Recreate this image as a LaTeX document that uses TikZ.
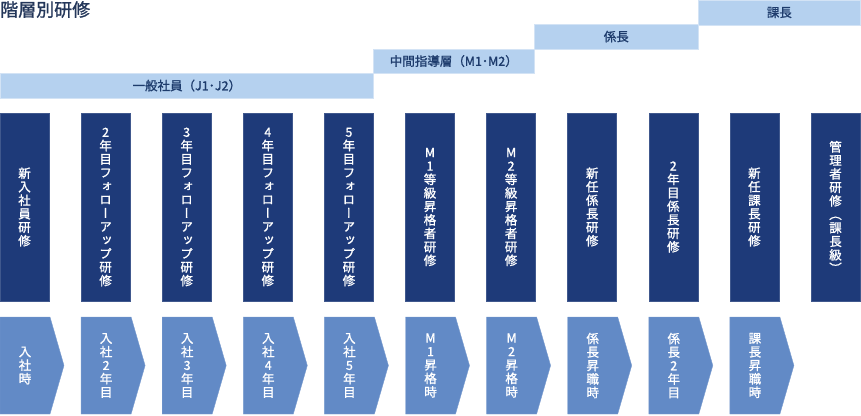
\documentclass[tikz,border=0pt]{standalone}
\usepackage{fontspec}
\setmainfont{Noto Sans CJK JP}[FakeBold=1.2]
\newfontfamily\tatefont[RawFeature=+vert,FakeBold=1.2]{Noto Sans CJK JP}
\definecolor{kon}{HTML}{1E3A79}
\definecolor{aoi}{HTML}{628AC6}
\definecolor{usuao}{HTML}{B5D1EF}
\definecolor{bandmoji}{HTML}{1D3B6C}
\definecolor{midashi}{HTML}{24375A}
% tategaki: one character per line
\makeatletter
\def\tate#1{\tate@i#1\@nil}
\def\tate@i#1{\ifx\@nil#1\else#1\par\expandafter\tate@i\fi}
\makeatother
\tikzset{
  band/.style={fill=usuao,draw=usuao!60!white,line width=0.6pt,anchor=north west,
    minimum height=24.5pt,inner sep=0pt,text=bandmoji,font=\fontsize{12.5}{13}\selectfont},
  kenshu/.style={fill=kon,draw=kon!85!white,line width=0.5pt,minimum width=49pt,
    minimum height=188pt,inner sep=0pt,text=white,text width=20pt,align=center,
    font=\tatefont\fontsize{12.5}{13.5}\selectfont},
  yajirushi/.style={fill=aoi,draw=aoi!85!white,line width=0.4pt},
  jiki/.style={inner sep=0pt,text=white,text width=20pt,align=center,
    font=\tatefont\fontsize{12.5}{13.5}\selectfont}
}
\begin{document}
\begin{tikzpicture}[x=1pt,y=-1pt]
    \useasboundingbox (0,0) rectangle (861,415);
    \node[anchor=north west,inner sep=0pt,text=midashi,font=\fontsize{18}{18}\selectfont] (midashi) at (0,1) {階層別研修};
    % kaisou no obi
    \foreach \x/\w/\yy/\name/\txt in {
        0/373/73/ippan/{一般社員（J1･J2）},
        373/161/48.5/chukan/{中間指導層（M1･M2）},
        534/164/24/kakari/{係長},
        698/162/0/kacho/{課長}
    } {
        \node[band,minimum width=\w pt] (\name) at (\x,\yy) {\txt};
    }
    % kenshu
    \foreach \i/\txt in {
        0/新入社員研修,
        1/2年目フォローアップ研修,
        2/3年目フォローアップ研修,
        3/4年目フォローアップ研修,
        4/5年目フォローアップ研修,
        5/M1等級昇格者研修,
        6/M2等級昇格者研修,
        7/新任係長研修,
        8/2年目係長研修,
        9/新任課長研修,
        10/管理者研修（課長級）
    } {
        \node[kenshu] (k\i) at ({81.1*\i+24.5},207) {\expandafter\tate\expandafter{\txt}};
    }
    % jiki no yajirushi
    \foreach \i/\txt in {
        0/入社時,
        1/入社2年目,
        2/入社3年目,
        3/入社4年目,
        4/入社5年目,
        5/M1昇格時,
        6/M2昇格時,
        7/係長昇職時,
        8/係長2年目,
        9/課長昇職時
    } {
        \draw[yajirushi] ({81.1*\i},317) -- ++(50,0) -- ++(14,48.5) -- ++(-14,48.5) -- ++(-50,0) -- cycle;
        \node[jiki] (j\i) at ({81.1*\i+25},365.5) {\expandafter\tate\expandafter{\txt}};
    }
\end{tikzpicture}
\end{document}
